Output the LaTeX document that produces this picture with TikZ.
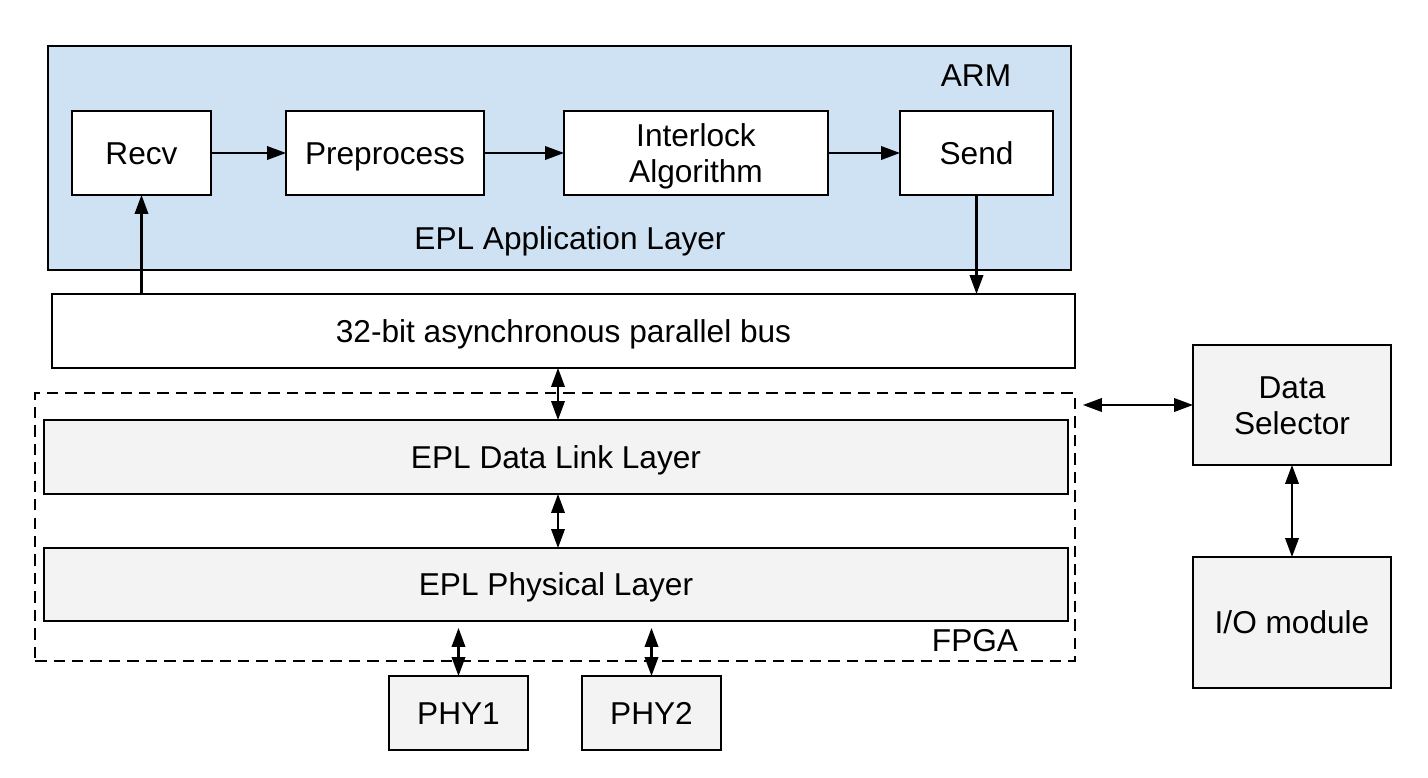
\documentclass[tikz,border=0pt]{standalone}
\usepackage{fontspec}
\setmainfont{Liberation Sans}
\usepackage{xcolor}
\usetikzlibrary{arrows.meta}

\definecolor{armblue}{HTML}{CFE2F3}
\definecolor{layergray}{HTML}{F3F3F3}

\begin{document}
\begin{tikzpicture}[x=0.02cm,y=-0.02cm,thick,
   >={Triangle[length=3.8mm,width=2.7mm]},
   every node/.style={font=\fontsize{18}{20.5}\selectfont,inner sep=0pt,outer sep=0pt,
     text height=12.9pt,text depth=0pt},
   two lines/.style={text height=33.4pt},
   soft box/.style={draw,line width=1.4pt,fill=white,align=center},
   layer box/.style={soft box,fill=layergray},
   link/.style={line width=1.2pt}]

  \useasboundingbox (0,0) rectangle (1428,778);

  % ARM part
  \node[soft box,fill=armblue,minimum width=20.46cm,minimum height=4.48cm] (arm) at (559.5,158) {};
  \node (armlabel) at (976,75) {ARM};
  \node (applabel) at (570,238) {EPL Application Layer};

  \node[soft box,minimum width=2.78cm,minimum height=1.68cm] (recv) at (141.5,153) {Recv};
  \node[soft box,minimum width=3.96cm,minimum height=1.68cm] (prep) at (385,153) {Preprocess};
  \node[soft box,two lines,minimum width=5.28cm,minimum height=1.68cm] (inter) at (696,153) {Interlock\\Algorithm};
  \node[soft box,minimum width=3.06cm,minimum height=1.68cm] (send) at (976.5,153) {Send};

  \node[soft box,minimum width=20.46cm,minimum height=1.48cm] (bus) at (563.5,331) {32-bit asynchronous parallel bus};

  % FPGA part
  \node[draw,line width=1.5pt,dash pattern=on 6.5pt off 4pt,minimum width=20.8cm,minimum height=5.36cm] (fpga) at (555,527) {};
  \node (fpgalabel) at (975,640) {FPGA};

  \node[layer box,minimum width=20.48cm,minimum height=1.48cm] (dll) at (556,457) {EPL Data Link Layer};
  \node[layer box,minimum width=20.48cm,minimum height=1.46cm] (phys) at (556,584.5) {EPL Physical Layer};

  \node[layer box,minimum width=2.78cm,minimum height=1.48cm] (phy1) at (458.5,713) {PHY1};
  \node[layer box,minimum width=2.78cm,minimum height=1.48cm] (phy2) at (651.5,713) {PHY2};

  % right side
  \node[layer box,two lines,minimum width=3.96cm,minimum height=2.4cm] (dsel) at (1292,405) {Data\\Selector};
  \node[layer box,minimum width=3.96cm,minimum height=2.62cm] (iomod) at (1292,622.5) {I/O module};

  \foreach \from/\to in {recv/prep,prep/inter,inter/send} \draw[link,->] (\from) -- (\to);
  \draw[link,->] (bus.north -| recv) -- (recv);
  \draw[link,->] (send) -- (send |- bus.north);

  \draw[link,<->] (bus.south -| 558,0) -- (dll.north -| 558,0);
  \draw[link,<->] (dll.south -| 558,0) -- (phys.north -| 558,0);
  \foreach \phy in {phy1,phy2}
    \draw[link,<->,shorten <=0.14cm] (\phy |- phys.south) -- (\phy);

  \draw[link,<->,shorten <=0.16cm] (dsel.west -| fpga.east) -- (dsel.west);
  \draw[link,<->] (dsel) -- (iomod);
\end{tikzpicture}
\end{document}
